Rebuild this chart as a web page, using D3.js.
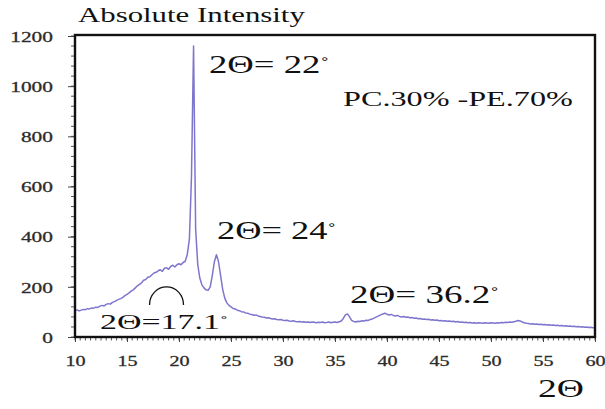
<!DOCTYPE html>
<html>
<head>
<meta charset="utf-8">
<script src="https://cdn.jsdelivr.net/npm/d3@7"></script>
<style>
  html, body { margin: 0; padding: 0; background: #fff; }
  svg { display: block; }
</style>
</head>
<body>
<svg id="chart" width="605" height="409"></svg>
<script>
// XRD pattern of the PC 30% / PE 70% blend, recorded from 10° to 60° (2θ) in 0.2° steps
const twoThetaStart = 10;
const twoThetaStep = 0.2;

// Absolute intensity, one row per 2° of 2θ
const intensity = [
  105,108,104,107,110,109,113,112,116,115,   // 10.0 – 11.8
  119,118,123,126,124,130,133,131,138,141,   // 12.0 – 13.8
  146,150,153,158,165,170,176,183,188,196,   // 14.0 – 15.8
  204,210,216,226,229,238,240,248,255,258,   // 16.0 – 17.8
  264,268,262,274,276,270,281,286,279,288,   // 18.0 – 19.8
  292,288,297,302,330,390,640,1160,430,290,  // 20.0 – 21.8
  235,208,196,188,186,200,245,300,328,300,   // 22.0 – 23.8
  245,190,155,136,126,120,114,112,107,105,   // 24.0 – 25.8
  101,100,96,95,91,90,87,88,84,82,           // 26.0 – 27.8
  80,79,76,77,74,72,73,70,69,70,             // 28.0 – 29.8
  67,66,67,64,63,65,62,61,62,60,             // 30.0 – 31.8
  61,59,60,58,60,59,57,59,58,60,             // 32.0 – 33.8
  57,58,60,57,59,60,58,61,64,74,             // 34.0 – 35.8
  88,92,80,66,62,60,63,62,65,64,             // 36.0 – 37.8
  67,66,70,72,76,80,84,88,92,95,             // 38.0 – 39.8
  91,88,90,86,84,86,82,80,82,79,             // 40.0 – 41.8
  80,77,78,75,76,73,74,71,72,70,             // 42.0 – 43.8
  71,68,69,67,68,65,66,64,65,63,             // 44.0 – 45.8
  64,62,63,60,62,59,60,58,59,57,             // 46.0 – 47.8
  58,56,57,55,57,56,55,57,56,55,             // 48.0 – 49.8
  57,56,55,57,56,58,57,59,58,60,             // 50.0 – 51.8
  59,61,63,66,64,60,57,55,54,52,             // 52.0 – 53.8
  53,51,52,50,51,49,50,48,49,47,             // 54.0 – 55.8
  48,46,47,45,46,44,45,43,44,42,             // 56.0 – 57.8
  43,41,42,40,41,39,40,38,39,37,             // 58.0 – 59.8
  38                                         // 60.0
];

const twoTheta = intensity.map((_, i) => +(twoThetaStart + i * twoThetaStep).toFixed(1));

// Axis ticks
const xTicks = [10, 15, 20, 25, 30, 35, 40, 45, 50, 55, 60];
const yTicks = [0, 200, 400, 600, 800, 1000, 1200];

// Text
const yTitle = "Absolute Intensity";
const xTitle = "2\u0398";
const sampleLabel = "PC.30% -PE.70%";
const peakLabels = ["2\u0398= 22", "2\u0398= 24", "2\u0398= 36.2", "2\u0398=17.1"];

// ---------------------------------------------------------------------------
const FONT = "'Liberation Serif', 'DejaVu Serif', 'Noto Serif', 'Times New Roman', Times, serif";

const svg = d3.select("#chart");
const plot = { left: 75, right: 595, top: 36, bottom: 337 };

const x = d3.scaleLinear().domain([10, 60]).range([plot.left, plot.right]);
const y = d3.scaleLinear().domain([0, 1200]).range([plot.bottom, plot.top]);

svg.append("rect").attr("width", 605).attr("height", 409).attr("fill", "#fff");

// Places a text whose glyphs are stretched horizontally to a given width
function stretchedText(parent, str, px, baseline, size, width, degree) {
  const g = parent.append("g").attr("transform", `translate(${px},${baseline})`);
  const t = g.append("text")
    .attr("font-family", FONT)
    .attr("font-size", size)
    .attr("fill", "#111");
  t.append("tspan").text(str);
  if (degree) {
    t.append("tspan").attr("font-size", size * 0.7).attr("dy", -size * 0.08).text("\u02DA");
  }
  const w = t.node().getBBox().width;
  t.attr("transform", `scale(${width / w},1)`);
  return t;
}

// Minor ticks
const minorX = d3.range(10, 60.001, 0.5);
const minorY = d3.range(0, 1200.001, 40);

const ticks = svg.append("g").attr("stroke", "#555").attr("stroke-width", 1);
ticks.selectAll(".mx").data(minorX).join("line")
  .attr("x1", d => x(d)).attr("x2", d => x(d))
  .attr("y1", plot.bottom).attr("y2", plot.bottom + 3.5);
ticks.selectAll(".my").data(minorY).join("line")
  .attr("y1", d => y(d)).attr("y2", d => y(d))
  .attr("x1", plot.left).attr("x2", plot.left - 4);

// Major axes
const xAxis = svg.append("g")
  .attr("transform", `translate(0,${plot.bottom})`)
  .call(d3.axisBottom(x).tickValues(xTicks).tickSize(5).tickFormat(d3.format("d")));
const yAxis = svg.append("g")
  .attr("transform", `translate(${plot.left},0)`)
  .call(d3.axisLeft(y).tickValues(yTicks).tickSize(7).tickFormat(d3.format("d")));

[xAxis, yAxis].forEach(a => {
  a.attr("font-family", FONT);
  a.select(".domain").remove();
  a.selectAll(".tick line").attr("stroke", "#444");
  a.selectAll(".tick text")
    .attr("font-family", FONT)
    .attr("font-size", 15.5)
    .attr("fill", "#2b2b2b")
    .attr("stroke", "#2b2b2b").attr("stroke-width", 0.3);
});
xAxis.selectAll(".tick text").attr("y", 29).attr("dy", 0).attr("transform", "scale(1.3,1)");
yAxis.selectAll(".tick text").attr("x", -16).attr("dy", "0.34em").attr("transform", "scale(1.38,1)");

// Diffraction curve
const line = d3.line()
  .x((d, i) => x(twoTheta[i]))
  .y(d => y(d))
  .curve(d3.curveLinear);

svg.append("path")
  .datum(intensity)
  .attr("d", line)
  .attr("fill", "none")
  .attr("stroke", "#7066c8")
  .attr("stroke-width", 1.5)
  .attr("stroke-opacity", 0.9)
  .attr("stroke-linejoin", "round");

// Frame
svg.append("rect")
  .attr("x", plot.left).attr("y", plot.top - 1)
  .attr("width", plot.right - plot.left).attr("height", plot.bottom - plot.top + 1)
  .attr("fill", "none").attr("stroke", "#111").attr("stroke-width", 2.4);

// Titles
stretchedText(svg, yTitle, 78, 22, 22, 227);
stretchedText(svg, xTitle, 538, 397, 26, 46);
stretchedText(svg, sampleLabel, 343, 106, 20, 230);

// Peak annotations
stretchedText(svg, peakLabels[0], 209, 73, 26, 120, true);
stretchedText(svg, peakLabels[1], 217, 239, 26, 119, true);
stretchedText(svg, peakLabels[2], 350, 303, 26, 149, true);
stretchedText(svg, peakLabels[3], 100, 329, 22, 128, true);

// Broad amorphous hump marker
const cx = x(18.8), cy = y(128);
svg.append("path")
  .attr("d", `M${cx - 17},${cy} A17,18 0 0 1 ${cx + 17},${cy}`)
  .attr("fill", "none")
  .attr("stroke", "#111")
  .attr("stroke-width", 1.3);
</script>
</body>
</html>
